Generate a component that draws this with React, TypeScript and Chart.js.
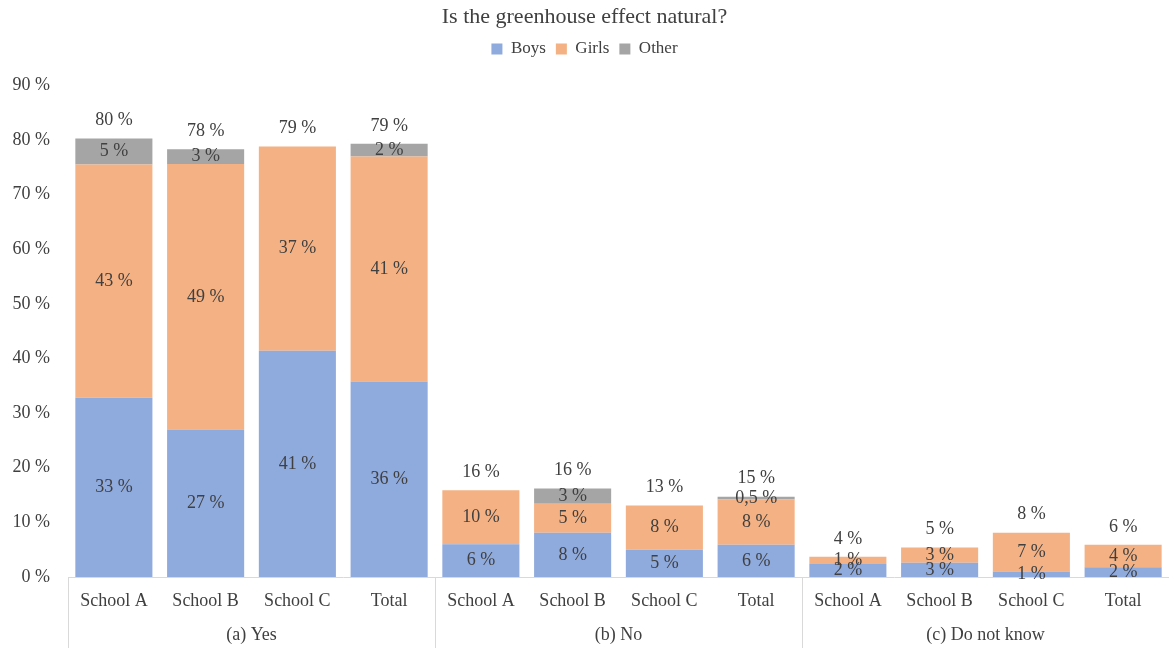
import { useEffect, useRef } from 'react';
import { Chart, registerables } from 'chart.js';

Chart.register(...registerables);

// Answer groups and the bars inside each group
const groups = ['(a) Yes', '(b) No', '(c) Do not know'];
const schools = ['School A', 'School B', 'School C', 'Total'];
const categories = groups.flatMap(() => schools);

// Share of pupils (%) per bar, in the order of `categories`
const boys = [32.8, 27.0, 41.4, 35.8, 6.0, 8.1, 5.0, 5.9, 2.4, 2.6, 1.0, 1.8];
const girls = [42.7, 48.6, 37.4, 41.2, 9.9, 5.3, 8.1, 8.3, 1.3, 2.8, 7.1, 4.1];
const other = [4.8, 2.7, 0, 2.3, 0, 2.8, 0, 0.5, 0, 0, 0, 0];

const yMax = 90;
const yStep = 10;

const FONT = "'Liberation Serif', 'Times New Roman', serif";
const TEXT = '#404040';
const LINE = '#d9d9d9';

const fmt = (v: number) =>
  v < 1 ? `${v.toFixed(1).replace('.', ',')} %` : `${Math.round(v)} %`;

// Extra room between the legend and the plot area
const legendGap = {
  id: 'legendGap',
  beforeLayout(chart: any) {
    const legend = chart.legend;
    if (legend && !legend._gapAdded) {
      const fit = legend.fit;
      legend.fit = function () {
        fit.call(this);
        this.height += 18;
      };
      legend._gapAdded = true;
    }
  },
};

// Value labels inside each segment and the stack totals above each bar
const valueLabels = {
  id: 'valueLabels',
  afterDatasetsDraw(chart: any) {
    const { ctx } = chart;
    ctx.save();
    ctx.font = `18px ${FONT}`;
    ctx.fillStyle = TEXT;
    ctx.textAlign = 'center';
    ctx.textBaseline = 'middle';
    const tops: number[] = [];
    const sums: number[] = [];
    chart.data.datasets.forEach((ds: any, i: number) => {
      const meta = chart.getDatasetMeta(i);
      meta.data.forEach((bar: any, j: number) => {
        const v = ds.data[j] as number;
        sums[j] = (sums[j] || 0) + v;
        tops[j] = tops[j] === undefined ? bar.y : Math.min(tops[j], bar.y);
        if (v > 0) ctx.fillText(fmt(v), bar.x, (bar.y + bar.base) / 2);
      });
    });
    const meta0 = chart.getDatasetMeta(0);
    meta0.data.forEach((bar: any, j: number) => {
      ctx.fillText(fmt(sums[j]), bar.x, tops[j] - 18);
    });
    ctx.restore();
  },
};

// Group captions under the school labels, with separator lines between groups
const groupAxis = {
  id: 'groupAxis',
  afterDraw(chart: any) {
    const { ctx, chartArea } = chart;
    const x = chart.scales.x;
    const per = schools.length;
    const edges: number[] = [];
    for (let g = 0; g <= groups.length; g++) {
      if (g === 0) edges.push(chartArea.left);
      else if (g === groups.length) edges.push(chartArea.right);
      else edges.push((x.getPixelForValue(g * per - 1) + x.getPixelForValue(g * per)) / 2);
    }
    ctx.save();
    ctx.strokeStyle = LINE;
    ctx.lineWidth = 1;
    for (let g = 0; g < groups.length; g++) {
      const px = Math.round(edges[g]) + 0.5;
      ctx.beginPath();
      ctx.moveTo(px, chartArea.bottom);
      ctx.lineTo(px, chart.height);
      ctx.stroke();
    }
    ctx.font = `18px ${FONT}`;
    ctx.fillStyle = TEXT;
    ctx.textAlign = 'center';
    ctx.textBaseline = 'middle';
    groups.forEach((g, i) => {
      ctx.fillText(g, (edges[i] + edges[i + 1]) / 2, chartArea.bottom + 58);
    });
    ctx.restore();
  },
};

export default function App() {
  const canvasRef = useRef<HTMLCanvasElement>(null);

  useEffect(() => {
    if (!canvasRef.current) return;
    const chart = new Chart(canvasRef.current, {
      type: 'bar',
      data: {
        labels: categories,
        datasets: [
          { label: 'Boys', data: boys, backgroundColor: '#8faadc' },
          { label: 'Girls', data: girls, backgroundColor: '#f4b183' },
          { label: 'Other', data: other, backgroundColor: '#a5a5a5' },
        ],
      },
      options: {
        animation: false,
        responsive: true,
        maintainAspectRatio: false,
        layout: { padding: { left: 0, right: 0, top: 0, bottom: 0 } },
        datasets: { bar: { barPercentage: 0.84, categoryPercentage: 1 } },
        plugins: {
          title: {
            display: true,
            text: 'Is the greenhouse effect natural?',
            color: TEXT,
            font: { family: FONT, size: 22, weight: 'normal' },
            padding: { top: 4, bottom: 0 },
          },
          legend: {
            display: true,
            labels: {
              color: TEXT,
              font: { family: FONT, size: 17 },
              boxWidth: 11,
              boxHeight: 11,
              padding: 10,
            },
          },
          tooltip: { enabled: false },
        },
        scales: {
          x: {
            stacked: true,
            grid: { display: false, drawTicks: false },
            border: { display: true, color: LINE },
            ticks: {
              color: TEXT,
              font: { family: FONT, size: 18 },
              padding: 13,
              autoSkip: false,
              maxRotation: 0,
            },
            afterFit(scale: any) {
              scale.height = 71;
            },
          },
          y: {
            stacked: true,
            min: 0,
            max: yMax,
            grid: { display: false, drawTicks: false },
            border: { display: false },
            ticks: {
              stepSize: yStep,
              color: TEXT,
              font: { family: FONT, size: 18 },
              padding: 18,
              callback: (v: any) => `${v} %`,
            },
            afterFit(scale: any) {
              scale.width = 68;
            },
          },
        },
      },
      plugins: [legendGap, valueLabels, groupAxis],
    });
    return () => chart.destroy();
  }, []);

  return (
    <div style={{ position: 'fixed', left: 0, top: 0, width: 1169, height: 648, background: '#fff' }}>
      <canvas ref={canvasRef} />
    </div>
  );
}
